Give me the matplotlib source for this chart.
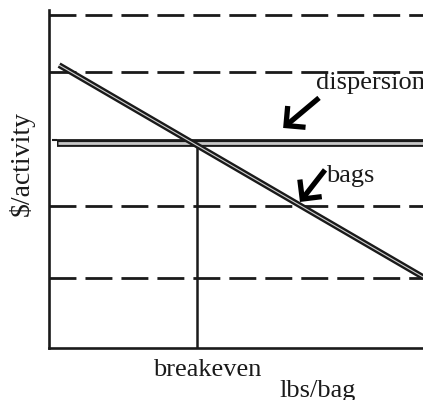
import matplotlib
matplotlib.use("Agg")
import matplotlib.pyplot as plt

plt.rcParams['font.family'] = ['Liberation Serif', 'DejaVu Serif']
plt.rcParams['lines.scale_dashes'] = False

# data (arbitrary units)
grid_levels = [9.85, 8.17, 4.20, 2.07]
bags_x = [0.27, 10.0]
bags_y = [8.37, 2.10]
disp_x = [0.21, 10.0]
disp_top_start = 0.08
disp_y = 6.07
breakeven_x = 3.96
xlim = [0, 10]
ylim = [0, 10]

labels = {"dispersion": (7.14, 7.66), "bags": (7.41, 4.91)}
arrows = {"dispersion": ((7.22, 7.40), (6.26, 6.51)),
          "bags": ((7.38, 5.27), (6.71, 4.32))}

fig = plt.figure(figsize=(4.23, 4.00), dpi=100)
ax = fig.add_axes([49/423, 52/400, 1 - 49/423, (348 - 10)/400])
ax.set_xlim(xlim)
ax.set_ylim(ylim)

for lev in grid_levels:
    ax.plot(xlim, [lev, lev], color='#1a1a1a', lw=2.0, dashes=(19.4, 6.5),
            solid_capstyle='butt', dash_capstyle='butt')

# breakeven vertical
ax.plot([breakeven_x, breakeven_x], [ylim[0], disp_y], color='#1a1a1a', lw=1.8)

# dispersion double line
ax.plot([disp_top_start, disp_x[0]], [disp_y + 0.09, disp_y + 0.09], color='#1a1a1a', lw=1.5,
        solid_capstyle='butt')
ax.plot(disp_x, [disp_y, disp_y], color='#1a1a1a', lw=5.6, solid_capstyle='butt')
ax.plot([disp_x[0] + 0.03, disp_x[1]], [disp_y, disp_y], color='#c8c8c8', lw=2.0,
        solid_capstyle='butt')

# bags double line
ax.plot(bags_x, bags_y, color='#1a1a1a', lw=4.2, solid_capstyle='butt')
ax.plot(bags_x, bags_y, color='#d0d0d0', lw=0.8, solid_capstyle='butt')

for name, (tail, tip) in arrows.items():
    ax.annotate('', xy=tip, xytext=tail,
                arrowprops=dict(arrowstyle='->,head_length=1.0,head_width=1.0',
                                color='black', lw=3.8, shrinkA=0, shrinkB=0,
                                mutation_scale=10, joinstyle='miter', capstyle='butt'))

for name, (x, y) in labels.items():
    ax.text(x, y, name, fontsize=19, ha='left', va='baseline', color='#1a1a1a',
            clip_on=False)

ax.text(4.22, -0.83, 'breakeven', fontsize=19, ha='center', va='baseline',
        color='#1a1a1a', clip_on=False)
ax.text(7.17, -1.45, 'lbs/bag', fontsize=19, ha='center', va='baseline',
        color='#1a1a1a', clip_on=False)
ax.text(-0.74, 5.47, '$/activity', fontsize=20, ha='center', va='center',
        rotation=90, color='#1a1a1a', clip_on=False)

for s in ['top', 'right']:
    ax.spines[s].set_visible(False)
for s in ['left', 'bottom']:
    ax.spines[s].set_linewidth(1.9)
    ax.spines[s].set_color('#1a1a1a')
ax.set_xticks([])
ax.set_yticks([])

fig.savefig('out.png', dpi=100)
